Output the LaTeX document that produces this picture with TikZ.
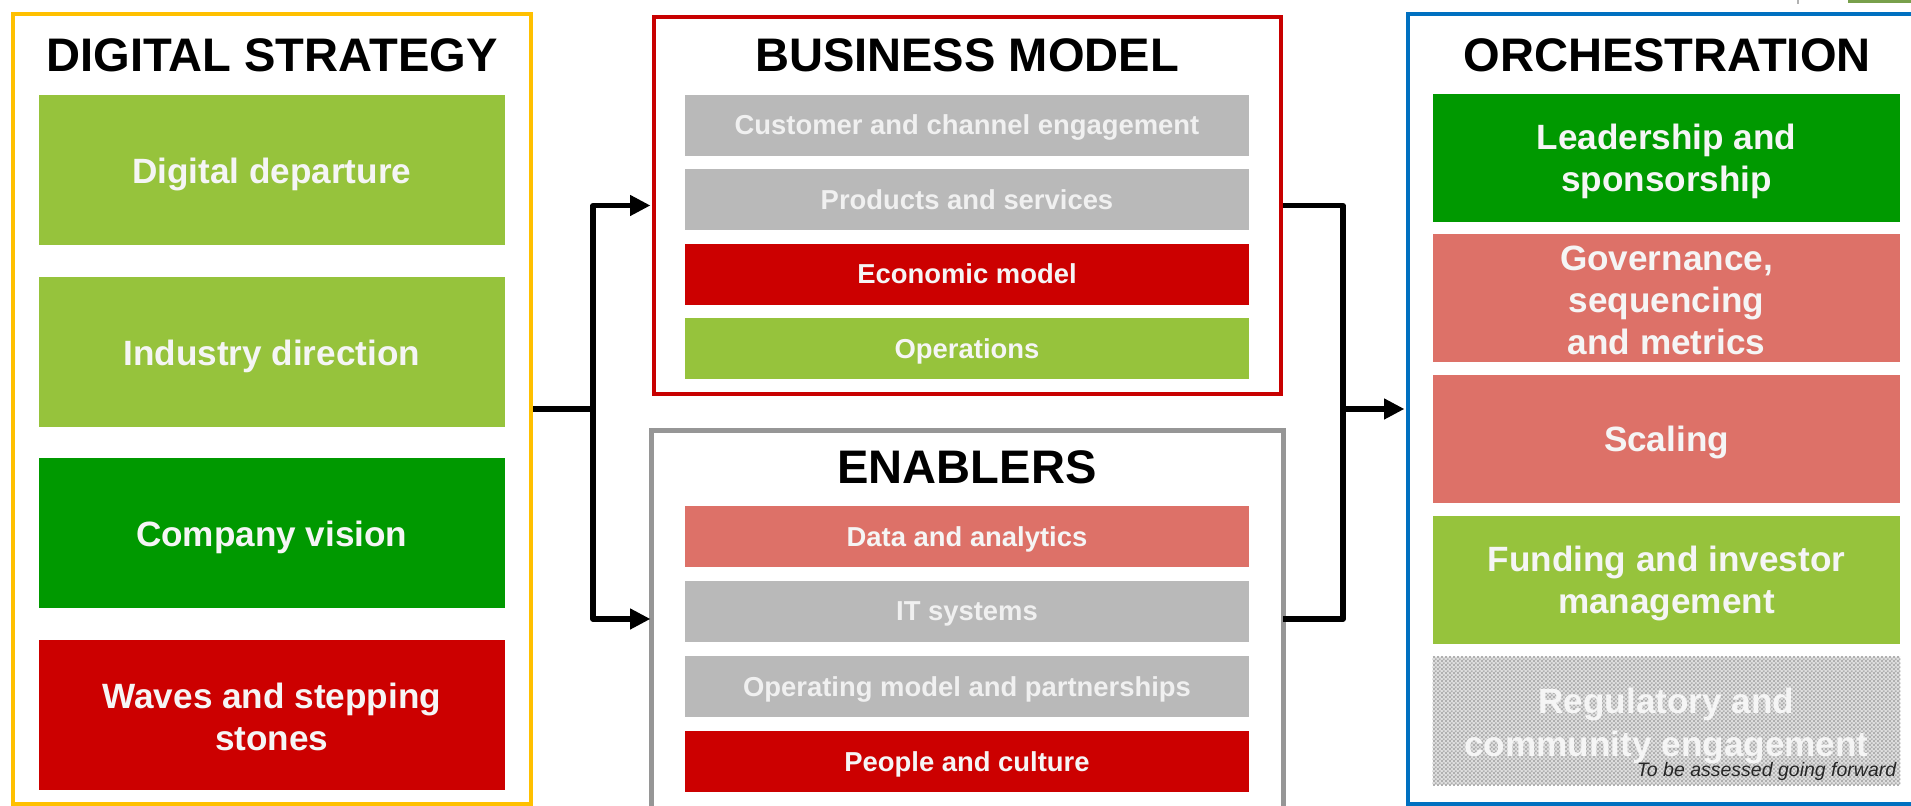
\documentclass[tikz,border=0pt]{standalone}
\usepackage{fontspec}
\setmainfont{Liberation Sans}
\usetikzlibrary{arrows.meta,patterns}
\pgfdeclarepatternformonly{finecheck}{\pgfpointorigin}{\pgfpoint{1.2pt}{1.2pt}}{\pgfpoint{1.2pt}{1.2pt}}{%
  \pgfpathrectangle{\pgfpointorigin}{\pgfpoint{0.6pt}{0.6pt}}%
  \pgfpathrectangle{\pgfpoint{0.6pt}{0.6pt}}{\pgfpoint{0.6pt}{0.6pt}}%
  \pgfusepath{fill}}
\definecolor{lgreen}{RGB}{150,195,60}
\definecolor{dgreen}{RGB}{0,153,0}
\definecolor{bred}{RGB}{204,0,0}
\definecolor{salmon}{RGB}{221,113,104}
\definecolor{lgray}{RGB}{185,185,185}
\definecolor{fyellow}{RGB}{255,192,0}
\definecolor{fred}{RGB}{200,0,0}
\definecolor{fgray}{RGB}{150,150,150}
\definecolor{fblue}{RGB}{0,112,192}
\definecolor{wtext}{RGB}{245,245,245}
\definecolor{gtext}{RGB}{240,240,240}
\definecolor{fragreen}{RGB}{120,160,75}
\begin{document}
\begin{tikzpicture}[x=0.1mm,y=-0.1mm,
  frame/.style={rectangle, inner sep=0, line width=1.4pt},
  title/.style={inner sep=0, font=\bfseries\fontsize{13.4}{16}\selectfont},
  lbox/.style={rectangle, inner sep=0, minimum width=46.55mm, minimum height=15mm},
  mbox/.style={rectangle, inner sep=0, minimum width=56.4mm, minimum height=6.07mm},
  rbox/.style={rectangle, inner sep=0, minimum width=46.7mm, minimum height=12.8mm},
  bigtxt/.style={inner sep=0, align=center, text=wtext, font=\bfseries\fontsize{10}{12}\selectfont},
  smalltxt/.style={inner sep=0, align=center, text=wtext, font=\bfseries\fontsize{7.8}{9}\selectfont},
  conn/.style={line width=1.5pt, line join=round},
  tip/.style={-{Triangle[length=5.8pt,width=5.6pt]}, shorten >=0.3pt}
]
\path[use as bounding box] (0,0) rectangle (1911,806);
\clip (0,0) rectangle (1911,806);

% top-right fragments
\fill[fragreen] (1848,0) rectangle (1911,3);
\draw[gray!60, line width=0.4pt] (1798,0) -- (1798,4);

% frames
\node[frame, draw=fyellow, minimum width=51.8mm, minimum height=79mm] (ds) at (272,409) {};
\node[frame, draw=fred, minimum width=62.7mm, minimum height=37.7mm] (bm) at (967.5,205.5) {};
\node[frame, minimum width=62.7mm, minimum height=37.2mm] (en) at (967.5,619) {};
\draw[fgray, line width=1.4pt] ([yshift=-3mm]en.south west) -- (en.north west) -- (en.north east) -- ([yshift=-3mm]en.south east);
\node[frame, draw=fblue, minimum width=53.2mm, minimum height=79mm] (orch) at (1674,409) {};

% titles
\node[title] (tds) at (272,55) {DIGITAL STRATEGY};
\node[title] (tbm) at (967,55) {BUSINESS MODEL};
\node[title] (ten) at (967,467.5) {ENABLERS};
\node[title] (tor) at (1667,55) {ORCHESTRATION};

% digital strategy
\node[lbox, fill=lgreen] (d1) at (271.75,170) {};
\node[bigtxt] (d1t) at ([yshift=-1.3pt]d1.center) {Digital departure};
\node[lbox, fill=lgreen] (d2) at (271.75,352) {};
\node[bigtxt] (d2t) at ([yshift=-1.2pt]d2.center) {Industry direction};
\node[lbox, fill=dgreen] (d3) at (271.75,533) {};
\node[bigtxt] (d3t) at ([yshift=-1.3pt]d3.center) {Company vision};
\node[lbox, fill=bred] (d4) at (271.75,715) {};
\node[bigtxt] (d4t) at ([yshift=-0.6pt]d4.center) {Waves and stepping\\stones};

% business model
\node[mbox, fill=lgray] (b1) at (967,125.25) {};
\node[smalltxt, text=gtext] (b1t) at ([yshift=-0.6pt]b1.center) {Customer and channel engagement};
\node[mbox, fill=lgray] (b2) at (967,199.75) {};
\node[smalltxt, text=gtext] (b2t) at ([yshift=0pt]b2.center) {Products and services};
\node[mbox, fill=bred] (b3) at (967,274.25) {};
\node[smalltxt] (b3t) at ([yshift=0.2pt]b3.center) {Economic model};
\node[mbox, fill=lgreen] (b4) at (967,348.75) {};
\node[smalltxt] (b4t) at ([yshift=-0.8pt]b4.center) {Operations};

% enablers
\node[mbox, fill=salmon] (e1) at (967,536.5) {};
\node[smalltxt] (e1t) at ([yshift=-0.8pt]e1.center) {Data and analytics};
\node[mbox, fill=lgray] (e2) at (967,611.5) {};
\node[smalltxt, text=gtext] (e2t) at ([yshift=-0.8pt]e2.center) {IT systems};
\node[mbox, fill=lgray] (e3) at (967,686.5) {};
\node[smalltxt, text=gtext] (e3t) at ([yshift=-0.8pt]e3.center) {Operating model and partnerships};
\node[mbox, fill=bred] (e4) at (967,761.5) {};
\node[smalltxt] (e4t) at ([yshift=-0.8pt]e4.center) {People and culture};

% orchestration
\node[rbox, fill=dgreen] (o1) at (1666.5,158.5) {};
\node[bigtxt] (o1t) at ([yshift=-0.9pt]o1.center) {Leadership and\\sponsorship};
\node[rbox, fill=salmon] (o2) at (1666.5,298) {};
\node[bigtxt] (o2t) at ([yshift=-0.7pt]o2.center) {Governance,\\sequencing\\and metrics};
\node[rbox, fill=salmon] (o3) at (1666.5,439) {};
\node[bigtxt] (o3t) at ([yshift=-0.9pt]o3.center) {Scaling};
\node[rbox, fill=lgreen] (o4) at (1666.5,580) {};
\node[bigtxt] (o4t) at ([yshift=-0.9pt]o4.center) {Funding and investor\\management};
\node[rbox, fill=gray!25] (o5) at (1666.5,721) {};
\fill[pattern=finecheck, pattern color=gray!62] (o5.south west) rectangle (o5.north east);
\node[bigtxt, text=gray!8] (o5t) at ([yshift=-1.4pt]o5.center) {Regulatory and\\community engagement};
\node[inner sep=0, anchor=base east, text=black!85, font=\itshape\fontsize{5.55}{6}\selectfont] (tba) at (1897,777) {To be assessed going forward};

% connectors
\coordinate (jl) at (593,409);
\coordinate (jr) at (1343,409);
\draw[conn] (ds.east) -- (jl);
\draw[conn, tip] (jl) |- (bm.west);
\draw[conn, tip] (jl) |- (en.west);
\draw[conn] (bm.east) -| (jr);
\draw[conn] (en.east) -| (jr);
\draw[conn, tip] (jr) -- (orch.west);
\end{tikzpicture}
\end{document}
